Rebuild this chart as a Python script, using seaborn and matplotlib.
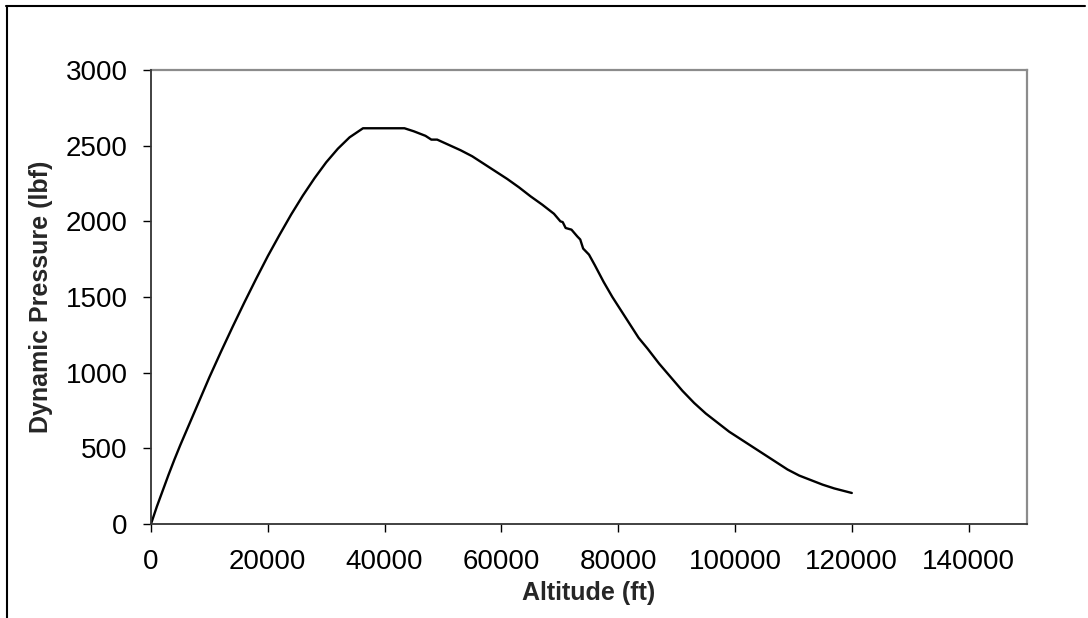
import matplotlib
matplotlib.use("Agg")
import matplotlib.pyplot as plt
from matplotlib.lines import Line2D
import seaborn as sns
import pandas as pd

# ---- data ----
altitude_ft = [0, 1000, 2000, 3000, 4000, 5000, 6000, 8000, 10000, 12000, 14000,
               16000, 18000, 20000, 22000, 24000, 26000, 28000, 30000, 32000, 34000,
               36300, 43400, 45000, 47000, 48000, 49000, 51000, 53000, 55000, 57000,
               59000, 61000, 63000, 65000, 67000, 69000, 70100, 70500, 71000, 72000,
               73000, 73500, 74000, 75000, 76000, 77500, 79000, 81500, 83500, 85000,
               87000, 89000, 91000, 93000, 95000, 97000, 99000, 101000, 103000, 105000,
               107000, 109000, 111000, 113000, 115000, 117000, 119000, 120000]
dyn_pressure_lbf = [0, 115, 220, 325, 425, 520, 610, 790, 970, 1140, 1305,
                    1465, 1620, 1770, 1910, 2045, 2170, 2285, 2390, 2480, 2555,
                    2615, 2615, 2595, 2565, 2540, 2540, 2505, 2470, 2430, 2380,
                    2330, 2280, 2225, 2165, 2110, 2050, 2000, 1995, 1956, 1945,
                    1900, 1880, 1820, 1780, 1710, 1600, 1500, 1350, 1230, 1160,
                    1060, 970, 880, 800, 730, 670, 610, 560, 510, 460,
                    410, 360, 320, 290, 260, 235, 215, 205]
x_ticks = [0, 20000, 40000, 60000, 80000, 100000, 120000, 140000]
y_ticks = [0, 500, 1000, 1500, 2000, 2500, 3000]
x_label = "Altitude (ft)"
y_label = "Dynamic Pressure (lbf)"

df = pd.DataFrame({"alt": altitude_ft, "q": dyn_pressure_lbf})

sns.set_style("white")
plt.rcParams["font.family"] = ["Liberation Sans", "DejaVu Sans"]

W, H = 1088, 618
fig = plt.figure(figsize=(W / 100, H / 100), dpi=100)
ax = fig.add_axes([151 / W, 1 - 524 / H, 876 / W, 454 / H])

sns.lineplot(data=df, x="alt", y="q", ax=ax, color="black", linewidth=1.7,
             sort=False, estimator=None)

ax.set_xlim(0, 150000)
ax.set_ylim(0, 3000)
ax.set_xticks(x_ticks)
ax.set_yticks(y_ticks)
ax.set_xticklabels([str(v) for v in x_ticks])
ax.set_yticklabels([str(v) for v in y_ticks])
ax.tick_params(axis="both", direction="out", length=5.8, width=1.0,
               color="black", labelsize=20, labelcolor="black")
ax.tick_params(axis="x", pad=12)
ax.tick_params(axis="y", pad=11)
ax.tick_params(left=True, bottom=True)

for s in ["top", "right"]:
    ax.spines[s].set_color("#8c8c8c")
    ax.spines[s].set_linewidth(1.6)
for s in ["left", "bottom"]:
    ax.spines[s].set_color("#333333")
    ax.spines[s].set_linewidth(1.3)
    ax.spines[s].set_zorder(5)

ax.set_xlabel(x_label, fontsize=18, fontweight="bold")
ax.set_ylabel(y_label, fontsize=18, fontweight="bold")
ax.xaxis.set_label_coords(0.5, -0.125)
ax.yaxis.label.set_va("center")
ax.yaxis.set_label_coords((41 - 151) / 876, 0.5)

# outer chart frame (top and left edges visible)
fig.add_artist(Line2D([6 / W, 1085 / W], [1 - 6 / H, 1 - 6 / H],
                      transform=fig.transFigure, color="black", linewidth=1.5))
fig.add_artist(Line2D([7 / W, 7 / W], [1 - 6 / H, 0],
                      transform=fig.transFigure, color="black", linewidth=1.5))

fig.savefig("out.png", dpi=100, facecolor="white")
